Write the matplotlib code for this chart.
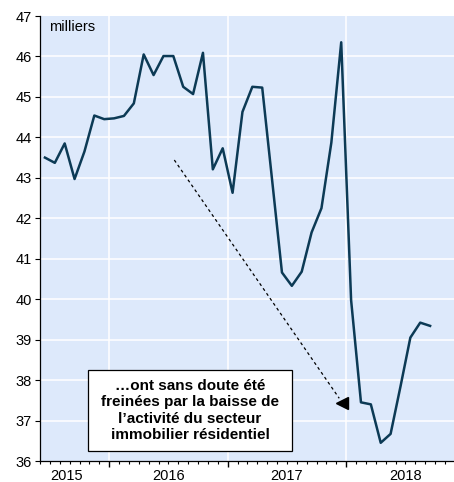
import numpy as np
import matplotlib
matplotlib.use('Agg')
import matplotlib.pyplot as plt
from matplotlib.patches import Rectangle
from matplotlib.ticker import FixedLocator, MultipleLocator

# monthly series, June 2015 -> September 2018 (thousands)
start_year, start_month = 2015, 6
values = [43.50, 43.37, 43.85, 42.97, 43.65, 44.54, 44.45, 44.47, 44.53, 44.84,
          46.05, 45.54, 46.01, 46.01, 45.25, 45.07, 46.09, 43.21, 43.73, 42.63,
          44.63, 45.25, 45.23, 42.95, 40.66, 40.33, 40.68, 41.65, 42.25, 43.87,
          46.35, 39.98, 37.45, 37.40, 36.45, 36.67, 37.84, 39.05, 39.42, 39.34]
year_labels = ['2015', '2016', '2017', '2018']
unit_label = 'milliers'
note = "…ont sans doute été\nfreinées par la baisse de\nl’activité du secteur\nimmobilier résidentiel"

# annotation anchors (month index, value)
arrow_start = (13.6, 43.44)
arrow_end = (30.3, 37.55)
arrow_head = (30.62, 37.43)
note_pos = (15.19, 37.25)
note_size = (20.66, 2.0)

plt.rcParams['font.family'] = ['Liberation Sans', 'DejaVu Sans']

bg = '#dde9fb'
line_col = '#0c3a55'

fig = plt.figure(figsize=(4.54, 4.82), dpi=100)
ax = fig.add_axes([40/454, 21/482, 414/454, 445/482])
ax.set_facecolor(bg)

x = np.arange(len(values)) + 0.5
ax.plot(x, values, color=line_col, lw=1.8, zorder=3)

# month index of each January
jan = [12 - start_month + 1 + 12*k for k in range(3)]

ax.set_xlim(0, 41.92)
ax.set_ylim(36, 47)
ax.yaxis.set_major_locator(MultipleLocator(1))
ax.xaxis.set_major_locator(FixedLocator(jan))
ax.xaxis.set_minor_locator(MultipleLocator(1))
ax.set_xticklabels([])

for j in jan:
    ax.axvline(j, color='white', lw=1.1, zorder=1)
for v in range(37, 47):
    ax.axhline(v, color='white', lw=1.1, zorder=1)

# year labels centred under each year
label_pos = [2.7] + [j + 6 for j in jan]
for p, t in zip(label_pos, year_labels):
    ax.text(p, -0.017, t, transform=ax.get_xaxis_transform(), ha='center', va='top',
            fontsize=10.5)

ax.tick_params(axis='y', direction='out', length=3.6, width=0.8, pad=2.2, labelsize=10.5)
ax.tick_params(axis='x', which='major', direction='out', length=4.5, width=1)
ax.tick_params(axis='x', which='minor', direction='out', length=2.2, width=0.8)
for s in ['top', 'right']:
    ax.spines[s].set_visible(False)
for s in ['left', 'bottom']:
    ax.spines[s].set_linewidth(0.9)
    ax.spines[s].set_color('black')

ax.text(0.022, 0.991, unit_label, transform=ax.transAxes, ha='left', va='top', fontsize=10.5)

ax.plot([arrow_start[0], arrow_end[0]], [arrow_start[1], arrow_end[1]], color='black',
        lw=0.9, linestyle=(0, (2.4, 2.4)), zorder=4)
ax.plot([arrow_head[0]], [arrow_head[1]], marker='<', color='black', markersize=8.5, zorder=4)

ax.add_patch(Rectangle((note_pos[0] - note_size[0]/2, note_pos[1] - note_size[1]/2),
                       note_size[0], note_size[1], facecolor='white', edgecolor='black',
                       lw=0.9, zorder=5))
ax.text(note_pos[0], note_pos[1], note, ha='center', va='center', fontsize=11,
        fontweight='bold', linespacing=1.22, zorder=6)

fig.savefig('out.png', dpi=100)
